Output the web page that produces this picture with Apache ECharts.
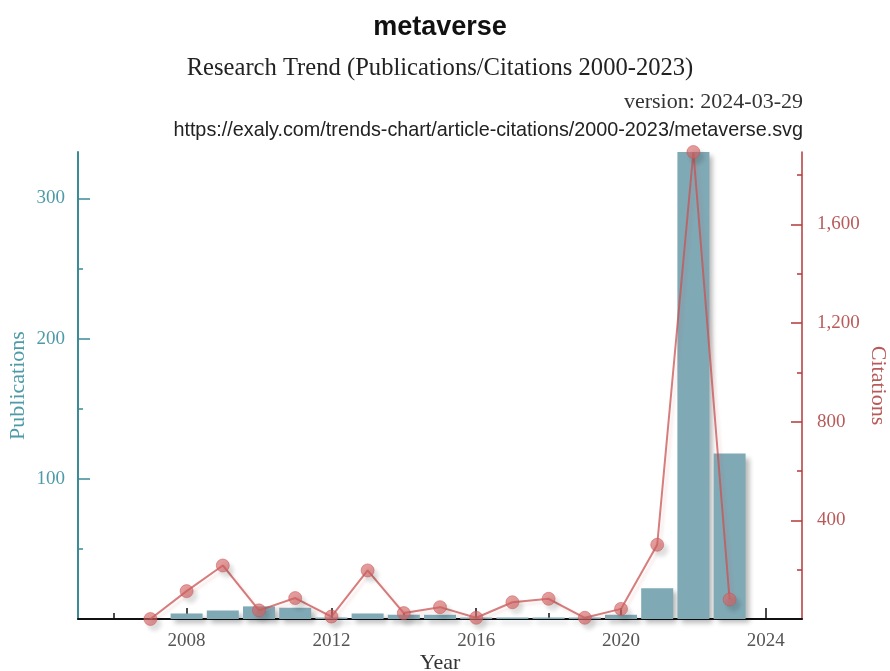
<!DOCTYPE html>
<html>
<head>
<meta charset="utf-8">
<script src="https://cdn.jsdelivr.net/npm/echarts@6/dist/echarts.min.js"></script>
<style>
  html, body { margin: 0; padding: 0; background: #ffffff; }
  #chart { width: 890px; height: 671px; }
</style>
</head>
<body>
<div id="chart"></div>
<script>
// Yearly publications (bars) and citations (line)
const years = [2007, 2008, 2009, 2010, 2011, 2012, 2013, 2014, 2015, 2016, 2017, 2018, 2019, 2020, 2021, 2022, 2023];
const publications = [0, 4, 6, 9, 8, 1, 4, 3, 3, 1, 1, 1, 1, 3, 22, 333, 118];
const citations = [0, 113, 217, 35, 85, 10, 197, 24, 48, 5, 68, 82, 5, 41, 301, 1893, 79];

// Axis tick positions
const yearLabels = [2008, 2012, 2016, 2020, 2024];
const yearMinorTicks = [2006, 2010, 2014, 2018, 2022];
const pubLabels = [100, 200, 300];
const pubMinorTicks = [50, 150, 250];
const citLabels = [400, 800, 1200, 1600];
const citMinorTicks = [200, 600, 1000, 1400, 1800];

const pubMax = Math.max.apply(null, publications);
const citMax = Math.max.apply(null, citations);

const SERIF = '"Liberation Serif", "Times New Roman", serif';
const SANS = '"Liberation Sans", Arial, sans-serif';
const TEAL_LINE = '#3b8a97';
const TEAL_TEXT = '#4f9aa8';
const RED_LINE = '#b33a3a';
const RED_TEXT = '#b85a5a';

const chart = echarts.init(document.getElementById('chart'), null, { renderer: 'canvas' });

// Header lines above the plot
function headerText(text, x, y, font, fill, align) {
  return {
    type: 'text', x: x, y: y, silent: true,
    style: { text: text, font: font, fill: fill, align: align, verticalAlign: 'middle' }
  };
}

chart.setOption({
  backgroundColor: '#ffffff',
  animation: false,
  graphic: [
    headerText('metaverse', 440, 28, 'bold 27px ' + SANS, '#111', 'center'),
    headerText('Research Trend (Publications/Citations 2000-2023)', 440, 68.5, '24.6px ' + SERIF, '#222', 'center'),
    headerText('version: 2024-03-29', 803, 102, '22px ' + SERIF, '#333', 'right'),
    headerText('https://exaly.com/trends-chart/article-citations/2000-2023/metaverse.svg', 803, 130.5, '19.8px ' + SANS, '#222', 'right')
  ],
  grid: { left: 78, right: 88, top: 152, bottom: 52, containLabel: false, outerBoundsMode: 'none' },
  xAxis: [
    {
      type: 'value', min: 2005, max: 2025, position: 'bottom',
      name: 'Year', nameLocation: 'middle', nameGap: 33, nameMoveOverlap: false,
      nameTextStyle: { fontFamily: SERIF, fontSize: 22, color: '#333' },
      axisLine: { show: true, lineStyle: { color: '#111', width: 2 } },
      axisTick: { show: true, inside: true, length: 11, customValues: yearLabels,
                  lineStyle: { color: '#111', width: 1.5 } },
      axisLabel: { customValues: yearLabels, fontFamily: SERIF, fontSize: 19, color: '#555', margin: 13,
                   formatter: v => String(v) },
      splitLine: { show: false }
    },
    {
      type: 'value', min: 2005, max: 2025, position: 'bottom',
      axisLine: { show: false },
      axisTick: { show: true, inside: true, length: 6, customValues: yearMinorTicks,
                  lineStyle: { color: '#111', width: 1.5 } },
      axisLabel: { show: false },
      splitLine: { show: false }
    }
  ],
  yAxis: [
    {
      type: 'value', min: 0, max: pubMax, position: 'left',
      name: 'Publications', nameLocation: 'middle', nameGap: 49, nameMoveOverlap: false,
      nameTextStyle: { fontFamily: SERIF, fontSize: 22, color: TEAL_TEXT },
      axisLine: { show: true, lineStyle: { color: TEAL_LINE, width: 2 } },
      axisTick: { show: true, inside: true, length: 12, customValues: pubLabels,
                  lineStyle: { color: TEAL_LINE, width: 1.5 } },
      axisLabel: { customValues: pubLabels, fontFamily: SERIF, fontSize: 19, color: TEAL_TEXT, margin: 13 },
      splitLine: { show: false }
    },
    {
      type: 'value', min: 0, max: citMax, position: 'right',
      name: 'Citations', nameLocation: 'middle', nameGap: 65, nameRotate: -90, nameMoveOverlap: false,
      nameTextStyle: { fontFamily: SERIF, fontSize: 22, color: RED_TEXT },
      axisLine: { show: true, lineStyle: { color: RED_LINE, width: 1.5 } },
      axisTick: { show: true, inside: true, length: 11, customValues: citLabels,
                  lineStyle: { color: RED_LINE, width: 1.5 } },
      axisLabel: { customValues: citLabels, fontFamily: SERIF, fontSize: 19, color: RED_TEXT, margin: 15 },
      splitLine: { show: false }
    },
    {
      type: 'value', min: 0, max: pubMax, position: 'left',
      axisLine: { show: false },
      axisTick: { show: true, inside: true, length: 5, customValues: pubMinorTicks,
                  lineStyle: { color: TEAL_LINE, width: 1.5 } },
      axisLabel: { show: false },
      splitLine: { show: false }
    },
    {
      type: 'value', min: 0, max: citMax, position: 'right',
      axisLine: { show: false },
      axisTick: { show: true, inside: true, length: 5, customValues: citMinorTicks,
                  lineStyle: { color: RED_LINE, width: 1.5 } },
      axisLabel: { show: false },
      splitLine: { show: false }
    }
  ],
  series: [
    {
      name: 'Publications', type: 'bar', xAxisIndex: 0, yAxisIndex: 0,
      data: years.map((y, i) => [y, publications[i]]),
      barWidth: 32, z: 2,
      itemStyle: {
        color: '#80a9b6',
        shadowColor: 'rgba(0,0,0,0.28)', shadowBlur: 5, shadowOffsetX: 4, shadowOffsetY: 4
      }
    },
    {
      name: 'Citations', type: 'line', xAxisIndex: 0, yAxisIndex: 1,
      data: years.map((y, i) => [y, citations[i]]),
      symbol: 'circle', symbolSize: 13, clip: false, z: 3,
      lineStyle: { color: 'rgba(200,82,82,0.75)', width: 2,
                   shadowColor: 'rgba(200,82,82,0.2)', shadowBlur: 3, shadowOffsetX: 3, shadowOffsetY: 3 },
      itemStyle: { color: 'rgba(214,102,102,0.65)', borderColor: 'rgba(200,82,82,0.5)', borderWidth: 1,
                   shadowColor: 'rgba(0,0,0,0.2)', shadowBlur: 4, shadowOffsetX: 4, shadowOffsetY: 5 }
    }
  ]
});
</script>
</body>
</html>
